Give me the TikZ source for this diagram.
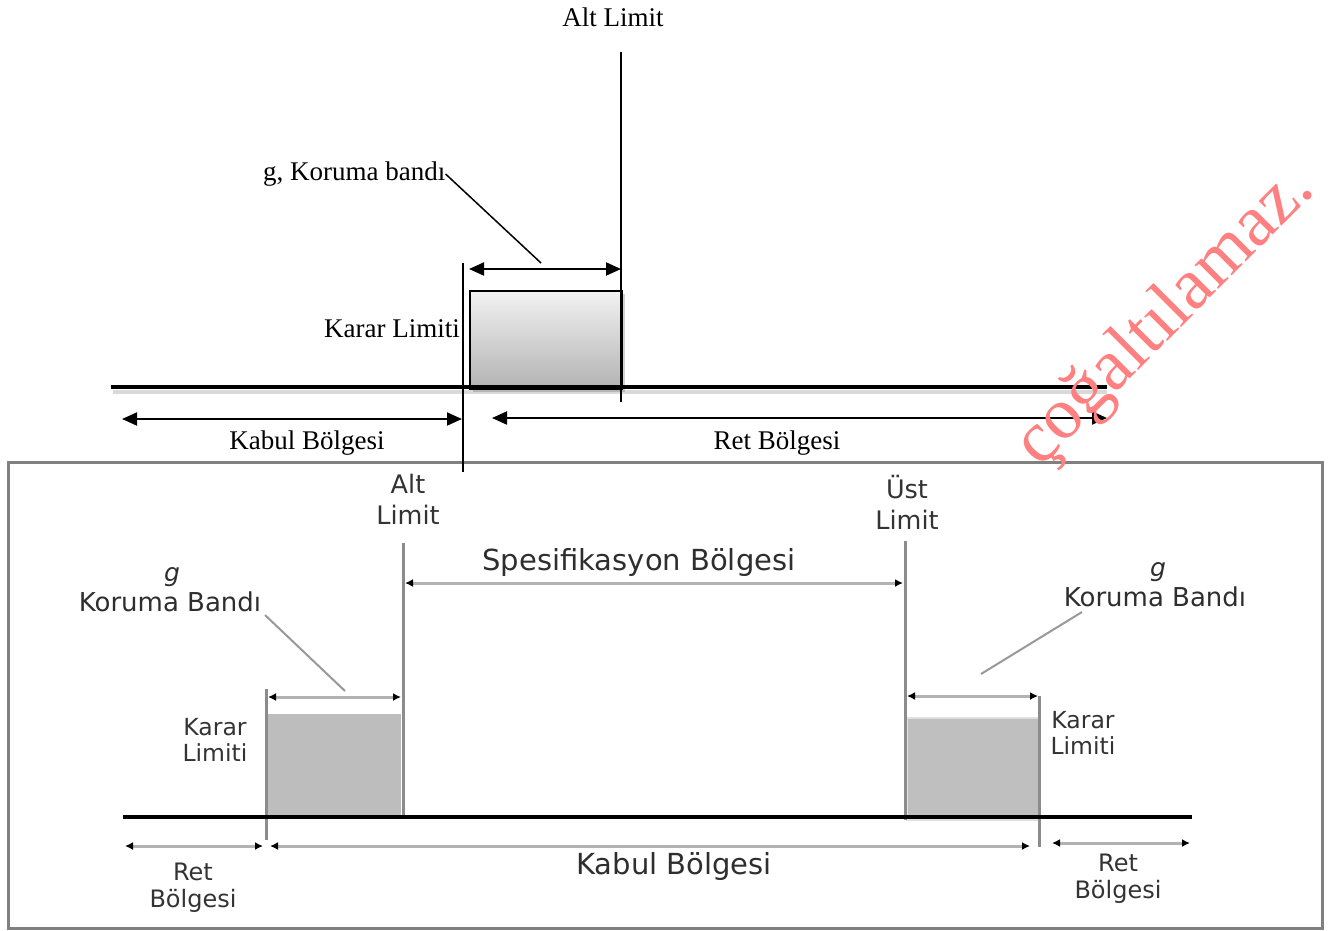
\documentclass[tikz,border=0pt]{standalone}
\usepackage{fontspec}
\setmainfont{Liberation Serif}
\newfontfamily\vsans{DejaVu Sans}
\usetikzlibrary{arrows.meta,shadows}
\begin{document}
\begin{tikzpicture}[x=1pt,y=-1pt,
  serif/.style={font=\fontsize{27}{32}\selectfont, inner sep=0pt},
  blab/.style={font=\vsans\fontsize{24}{27}\selectfont, text=black!80, align=center, inner sep=0pt},
  blabL/.style={font=\vsans\fontsize{25.5}{31}\selectfont, text=black!80, align=center, inner sep=0pt},
  bbig/.style={font=\vsans\fontsize{29}{32}\selectfont, text=black!82, align=center, inner sep=0pt},
  bkor/.style={font=\vsans\fontsize{26}{30}\selectfont, text=black!82, align=center, inner sep=0pt},
  gital/.style={font=\vsans\itshape\fontsize{25}{28}\selectfont, text=black!82, inner sep=0pt},
  bigdim/.style={line width=2pt, {Triangle[length=15pt,width=13pt]}-{Triangle[length=15pt,width=13pt]}},
  blk/.style={line width=2pt},
  gline/.style={line width=3pt, black!45},
  gdim/.style={line width=3pt, black!30, {Latex[length=8pt,width=8pt,color=black]}-{Latex[length=8pt,width=8pt,color=black]}},
  lead/.style={line width=2pt, black!40}
]
\useasboundingbox (0,0) rectangle (1330,930);

% ---------- top section ----------
\node[serif] (altlim) at (613,17) {Alt Limit};
\coordinate (vA1) at (621,52); \coordinate (vA2) at (621,402);
\coordinate (tl1) at (111,387); \coordinate (tl2) at (1107,387);
\coordinate (tl1s) at (113,392); \coordinate (tl2s) at (1107,392);
\draw[line width=4pt, black!15] (tl1s) -- (tl2s);
\node[inner sep=0pt, anchor=north west, minimum width=152pt, minimum height=98pt,
      draw, line width=2pt, top color=black!5, bottom color=black!30,
      drop shadow={shadow xshift=3pt, shadow yshift=-3pt, opacity=0.3, fill=black!60}] (kbox) at (469,290) {};
\draw[line width=4.5pt] (tl1) -- (tl2);
\draw[blk] (vA1) -- (vA2);

\node[serif, anchor=west] (gkor) at (263,174) {g, Koruma bandı};
\coordinate (gl) at (541,263);
\draw[line width=1.5pt] (gkor.east) -- (gl);
\coordinate (d1) at (469,269); \coordinate (d2) at (621,269);
\draw[bigdim] (d1) -- (d2);

\node[serif, anchor=east] (karar) at (460,329) {Karar Limiti};

\coordinate (k1) at (122,419); \coordinate (k2) at (462,419);
\draw[bigdim] (k1) -- (k2);
\coordinate (r1) at (492,418); \coordinate (r2) at (1107,418);
\draw[bigdim] (r1) -- (r2);
\node[serif] (kabul) at (307,443) {Kabul Bölgesi};
\node[serif] (ret) at (777,443) {Ret Bölgesi};

% ---------- bottom frame ----------
\coordinate (f1) at (8,462); \coordinate (f2) at (1322,928);
\draw[line width=3pt, black!50] (f1) rectangle (f2);

\coordinate (vK1) at (463,263); \coordinate (vK2) at (463,472);
\draw[blk] (vK1) -- (vK2);

% ---------- bottom section ----------
\node[blabL] (balt) at (408,499) {Alt\\Limit};
\node[blabL] (bust) at (907,502) {Üst\\Limit};

% gray boxes
\node[inner sep=0pt, anchor=north west, minimum width=133pt, minimum height=101pt,
      fill=black!26] (lbox) at (268,714) {};
\node[inner sep=0pt, anchor=north west, minimum width=133pt, minimum height=102pt,
      fill=black!25, draw=black!12, line width=1.5pt] (rbox) at (906,717) {};

% vertical lines
\coordinate (aL1) at (403,543); \coordinate (aL2) at (403,818);
\draw[gline] (aL1) -- (aL2);
\coordinate (uL1) at (905,541); \coordinate (uL2) at (905,820);
\draw[gline] (uL1) -- (uL2);
\coordinate (kL1) at (266,689); \coordinate (kL2) at (266,840);
\draw[gline] (kL1) -- (kL2);
\coordinate (kR1) at (1039,696); \coordinate (kR2) at (1039,847);
\draw[gline] (kR1) -- (kR2);

% baseline
\coordinate (b1) at (123,817); \coordinate (b2) at (1192,817);
\draw[line width=4pt] (b1) -- (b2);

% spec arrow
\node[bbig] (spec) at (639,562) {Spesifikasyon Bölgesi};
\coordinate (s1) at (405,583); \coordinate (s2) at (903,583);
\draw[gdim] (s1) -- (s2);

% left guard band
\node[gital] (lg) at (172,577) {g};
\node[bkor] (lkor) at (170,602) {Koruma Bandı};
\coordinate (ll1) at (265,615); \coordinate (ll2) at (345,691);
\draw[lead] (ll1) -- (ll2);
\coordinate (ld1) at (268,697); \coordinate (ld2) at (401,697);
\draw[gdim] (ld1) -- (ld2);
\node[blab, font=\vsans\fontsize{23.5}{26}\selectfont] (lkarar) at (215,740) {Karar\\Limiti};

% right guard band
\node[gital] (rg) at (1158,572) {g};
\node[bkor] (rkor) at (1155,597) {Koruma Bandı};
\coordinate (rl1) at (1082,612); \coordinate (rl2) at (981,674);
\draw[lead] (rl1) -- (rl2);
\coordinate (rd1) at (907,696); \coordinate (rd2) at (1038,696);
\draw[gdim] (rd1) -- (rd2);
\node[blab, font=\vsans\fontsize{23.5}{26}\selectfont] (rkarar) at (1083,733) {Karar\\Limiti};

% bottom arrows
\coordinate (lr1) at (125,846); \coordinate (lr2) at (263,846);
\draw[gdim] (lr1) -- (lr2);
\coordinate (kb1) at (270,846); \coordinate (kb2) at (1030,846);
\draw[gdim] (kb1) -- (kb2);
\coordinate (rr1) at (1052,843); \coordinate (rr2) at (1190,843);
\draw[gdim] (rr1) -- (rr2);

\node[blab] (lret) at (193,888) {Ret\\Bölgesi};
\node[bbig] (bkabul) at (674,866) {Kabul Bölgesi};
\node[blab] (rret) at (1118,879) {Ret\\Bölgesi};

% watermark
\node[rotate=45, text=red!50, font=\fontsize{73}{80}\selectfont, inner sep=0pt] (wm) at (1166,318) {çoğaltılamaz.};
\end{tikzpicture}
\end{document}
